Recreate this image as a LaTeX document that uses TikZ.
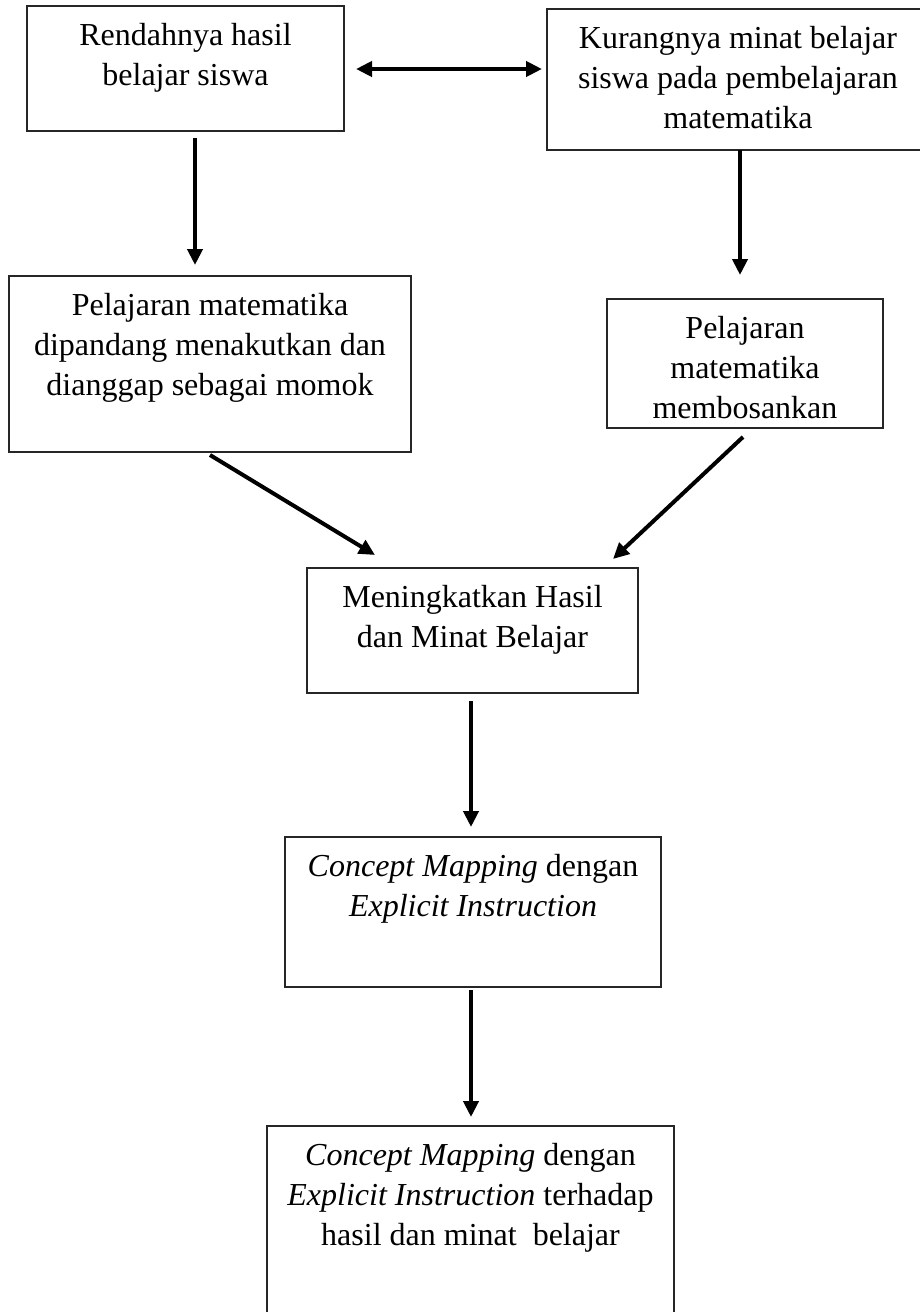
\documentclass[tikz,border=0pt]{standalone}
\usepackage{fontspec}
\setmainfont{Liberation Serif}
\usetikzlibrary{arrows.meta}
\newdimen\upx \upx=0.5pt
\newcommand{\bxt}[3]{\parbox[c][#2\upx][t]{#1\upx}{\centering\fontsize{16pt}{20pt}\selectfont\rule{0pt}{19.5pt}#3}}
\begin{document}
\begin{tikzpicture}[x=0.5pt, y=-0.5pt,
  box/.style={draw=black!85, line width=0.6pt, inner sep=0pt, outer sep=0pt},
  arr/.style={line width=2pt, -{Triangle[length=8pt,width=7.5pt]}},
  arrboth/.style={line width=2pt, {Triangle[length=8pt,width=7.5pt]}-{Triangle[length=8pt,width=7.5pt]}}]
\clip (0,0) rectangle (920,1312);
\fill[white] (0,0) rectangle (920,1312);
\node[box] (b1) at (185.5,68.5) {\bxt{317}{125}{Rendahnya hasil\\belajar siswa}};
\node[box] (b2) at (738,79.5) {\bxt{382}{141}{Kurangnya minat belajar\\siswa pada pembelajaran\\matematika}};
\node[box] (b3) at (210,364) {\bxt{402}{176}{Pelajaran matematika\\dipandang menakutkan dan\\dianggap sebagai momok}};
\node[box] (b4) at (745,363.5) {\bxt{276}{129}{Pelajaran\\matematika\\membosankan}};
\node[box] (b5) at (472.5,630.5) {\bxt{331}{125}{Meningkatkan Hasil\\dan Minat Belajar}};
\node[box] (b6) at (473,912) {\bxt{376}{150}{\textit{Concept Mapping} dengan\\\textit{Explicit Instruction}}};
\node[box] (b7) at (470.5,1226) {\bxt{407}{200}{\textit{Concept Mapping} dengan\\\textit{Explicit Instruction} terhadap\\hasil dan minat\ \ belajar}};
\draw[arrboth] ([shift={(12,0.5)}]b1.east) -- ([shift={(-5,-10.5)}]b2.west);
\draw[arr] ([shift={(9.5,7)}]b1.south) -- ([shift={(-15,-11)}]b3.north);
\draw[arr] ([shift={(2,0)}]b2.south) -- ([shift={(-5,-24)}]b4.north);
\draw[arr] ([shift={(0,3)}]b3.south) -- ([shift={(-97.5,-13)}]b5.north);
\draw[arr] ([shift={(-2,9)}]b4.south) -- ([shift={(140.5,-9)}]b5.north);
\draw[arr] ([shift={(-1.5,8)}]b5.south) -- ([shift={(-2,-10)}]b6.north);
\draw[arr] ([shift={(-2,3)}]b6.south) -- ([shift={(0.5,-9)}]b7.north);
\end{tikzpicture}
\end{document}
